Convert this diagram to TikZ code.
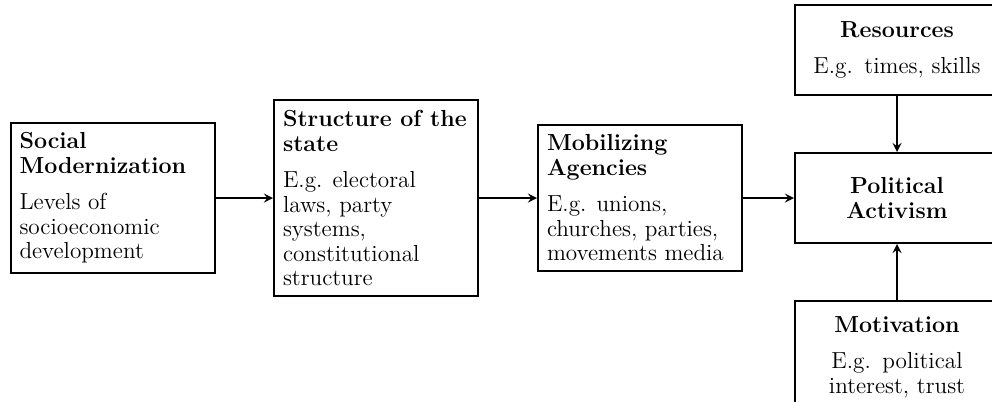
\documentclass[tikz,border=0pt]{standalone}
\begin{document}
\begin{tikzpicture}[x=0.5pt,y=-0.5pt,>=stealth]
	\tikzset{box/.style={draw,line width=1pt,text width=93pt,inner xsep=4.5pt,inner ysep=5pt,
			align=flush left,font=\fontsize{11.6}{12.25}\selectfont},
		boxc/.style={box,align=center,minimum height=45pt},
		link/.style={->,line width=1pt}}
	\useasboundingbox (0,0) rectangle (992,402);
	\clip (0,0) rectangle (992,402);
	\node[box] (social) at (112.5,198) {\textbf{Social Modernization}\\[6pt]Levels of socioeconomic development};
	\node[box] (state) at (376,198) {\textbf{Structure of the state}\\[6pt]E.g. electoral laws, party systems, constitutional structure};
	\node[box] (agencies) at (640,198) {\textbf{Mobilizing Agencies}\\[6pt]E.g. unions, churches, parties, movements media};
	\node[boxc] (activism) at (897,198) {\textbf{Political Activism}};
	\node[boxc,anchor=north] (resources) at (897,4) {\textbf{Resources}\\[6pt]E.g. times, skills};
	\node[boxc,anchor=north,minimum height=56pt] (motivation) at (897,300) {\textbf{Motivation}\\[6pt]E.g. political interest, trust};
	% connectors
	\draw[link] (social) -- (state);
	\draw[link] (state) -- (agencies);
	\draw[link] (agencies) -- (activism);
	\draw[link] (resources) -- (activism);
	\draw[link] (motivation) -- (activism);
\end{tikzpicture}
\end{document}
